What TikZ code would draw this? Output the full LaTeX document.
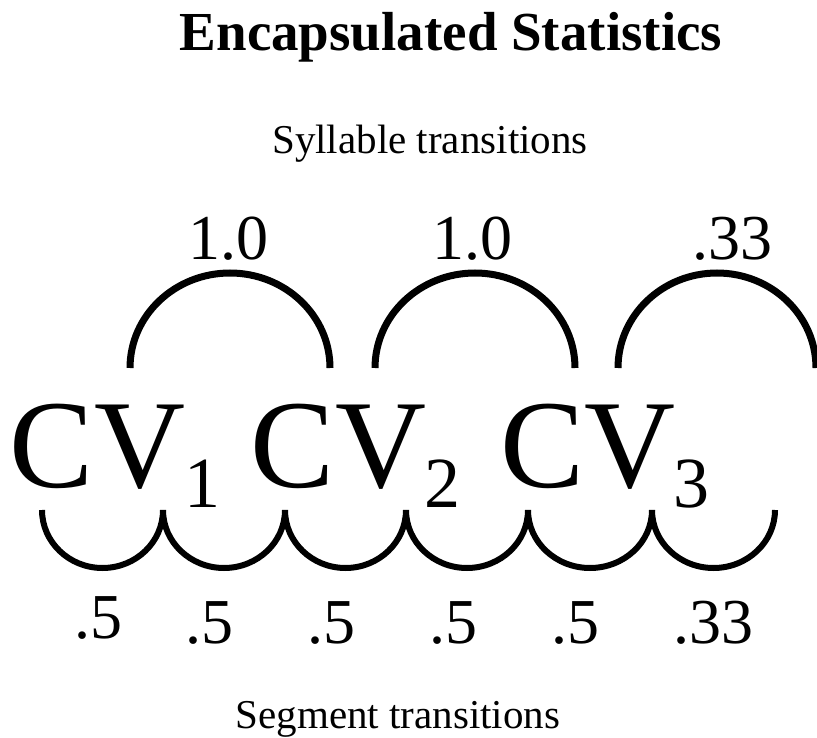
\documentclass[tikz,border=0pt]{standalone}
\usepackage{fontspec}
\setmainfont{Liberation Serif}
\begin{document}
\begin{tikzpicture}[x=1pt,y=-1pt,
  txt/.style={inner sep=0pt,anchor=base},
  titlefont/.style={txt,font=\fontsize{55}{60}\selectfont\bfseries},
  capfont/.style={txt,font=\fontsize{41}{45}\selectfont},
  cvfont/.style={txt,font=\fontsize{126}{130}\selectfont},
  subfont/.style={txt,font=\fontsize{72}{76}\selectfont},
  numfont/.style={txt,font=\fontsize{64}{68}\selectfont},
  toparc/.style={line width=7pt,line cap=butt},
  botarc/.style={line width=6pt,line cap=butt}]
\useasboundingbox (0,0) rectangle (817,738);
% texts
\node[titlefont] (title) at (451,51) {Encapsulated Statistics};
\node[capfont] (syl) at (430,154) {Syllable transitions};
\node[capfont] (seg) at (398,728) {Segment transitions};
% CV units
\node[cvfont] (cv1) at (97.5,487) {CV};
\node[cvfont] (cv2) at (338.5,487) {CV};
\node[cvfont] (cv3) at (588,487) {CV};
\node[subfont] (s1) at (202,507) {1};
\node[subfont] (s2) at (442,507) {2};
\node[subfont] (s3) at (691,507) {3};
% syllable probabilities
\node[numfont] (p1) at (228,260) {1.0};
\node[numfont] (p2) at (472,260) {1.0};
\node[numfont] (p3) at (732,260) {.33};
% segment probabilities
\node[numfont] (q1) at (98,638) {.5};
\node[numfont] (q2) at (209,643) {.5};
\node[numfont] (q3) at (331,643) {.5};
\node[numfont] (q4) at (453,643) {.5};
\node[numfont] (q5) at (575,643) {.5};
\node[numfont] (q6) at (713,643) {.33};
% top arc endpoints
\coordinate (ta1) at (130,368);
\coordinate (ta2) at (375,368);
\coordinate (ta3) at (618,368);
\draw[toparc] (ta1) arc[start angle=180,end angle=360,x radius=100,y radius=95];
\draw[toparc] (ta2) arc[start angle=180,end angle=360,x radius=100,y radius=95];
\draw[toparc] (ta3) arc[start angle=180,end angle=360,x radius=99,y radius=95];
% bottom arc endpoints
\coordinate (b0) at (42,510);
\coordinate (b1) at (163,510);
\coordinate (b2) at (285,510);
\coordinate (b3) at (406,510);
\coordinate (b4) at (528,510);
\coordinate (b5) at (652,510);
\coordinate (b6) at (775,510);
\draw[botarc] (b0) arc[start angle=180,end angle=0,x radius=60.5,y radius=58];
\draw[botarc] (b1) arc[start angle=180,end angle=0,x radius=61,y radius=58];
\draw[botarc] (b2) arc[start angle=180,end angle=0,x radius=60.5,y radius=58];
\draw[botarc] (b3) arc[start angle=180,end angle=0,x radius=61,y radius=58];
\draw[botarc] (b4) arc[start angle=180,end angle=0,x radius=62,y radius=58];
\draw[botarc] (b5) arc[start angle=180,end angle=0,x radius=61.5,y radius=58];
\end{tikzpicture}
\end{document}
